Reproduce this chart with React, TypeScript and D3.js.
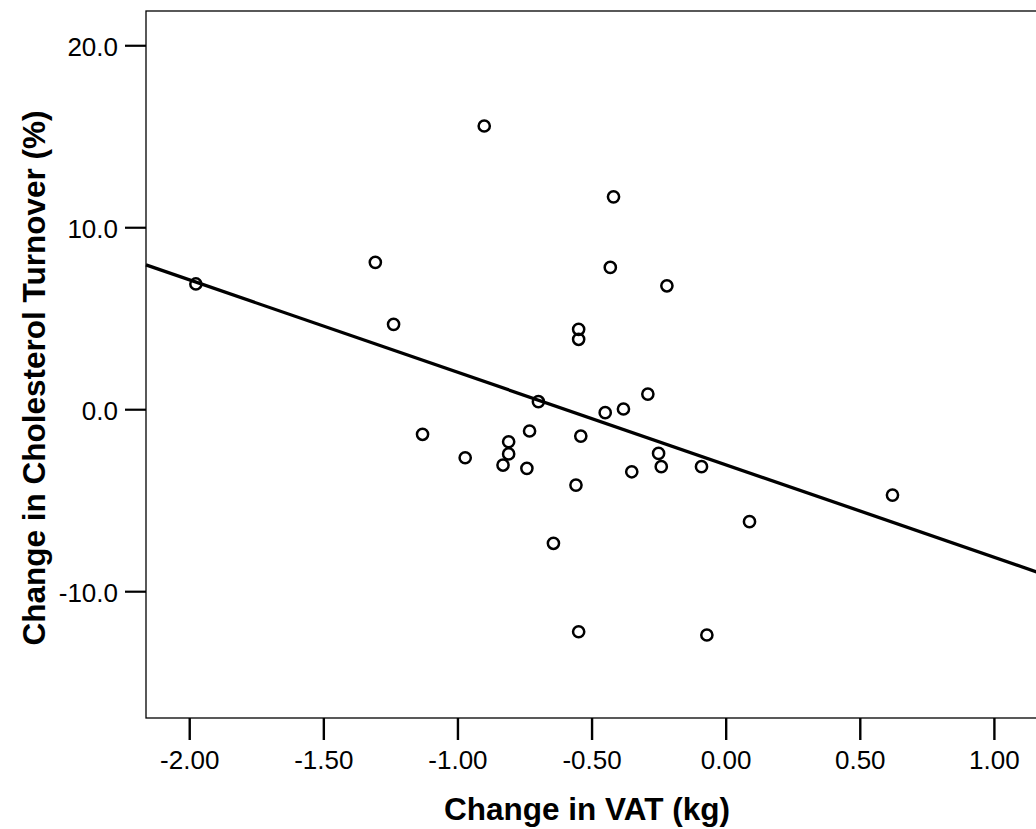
import React from "react";
import * as d3 from "d3";

// Data
const vatChange: number[] = [
  -1.977, -1.308, -1.24, -1.132, -0.973, -0.902, -0.832, -0.811, -0.811, -0.743,
  -0.733, -0.7, -0.644, -0.56, -0.55, -0.55, -0.542, -0.55, -0.451, -0.432,
  -0.42, -0.383, -0.352, -0.292, -0.252, -0.242, -0.221, -0.092, -0.072, 0.087,
  0.62,
];
const cholTurnoverChange: number[] = [
  6.91, 8.1, 4.69, -1.35, -2.64, 15.59, -3.04, -1.76, -2.43, -3.22,
  -1.17, 0.44, -7.34, -4.14, 4.42, 3.87, -1.45, -12.2, -0.16, 7.82,
  11.7, 0.04, -3.41, 0.86, -2.4, -3.13, 6.81, -3.13, -12.38, -6.15,
  -4.69,
];
const fitIntercept = -3.03;
const fitSlope = -5.08;

const xTicks: number[] = [-2, -1.5, -1, -0.5, 0, 0.5, 1];
const yTicks: number[] = [-10, 0, 10, 20];
const xLabel = "Change in VAT (kg)";
const yLabel = "Change in Cholesterol Turnover (%)";

const W = 1036;
const H = 829;
const left = 146;
const top = 11;
const right = 1040;
const bottom = 718;
const FONT = "'Liberation Sans', Arial, Helvetica, sans-serif";

export default function App() {
  const x = d3.scaleLinear().domain([-2.163, 1.17]).range([left, right]);
  const y = d3.scaleLinear().domain([-16.94, 21.91]).range([bottom, top]);
  const [x0, x1] = x.domain();
  const line = d3
    .line<number>()
    .x((v) => x(v))
    .y((v) => y(fitIntercept + fitSlope * v));
  const pts = vatChange.map((v, i) => ({ v, c: cholTurnoverChange[i] }));

  return (
    <svg
      width={W}
      height={H}
      style={{ position: "absolute", left: 0, top: 0, background: "#fff" }}
      fontFamily={FONT}
    >
      <rect x={0} y={0} width={W} height={H} fill="#fff" />
      {/* frame */}
      <rect
        x={left}
        y={top}
        width={right - left}
        height={bottom - top}
        fill="none"
        stroke="#000"
        strokeWidth={1.3}
      />
      {/* regression line */}
      <path d={line([x0, x1]) || ""} fill="none" stroke="#000" strokeWidth={3.3} />
      {/* points */}
      {pts.map((p, i) => (
        <circle
          key={i}
          cx={x(p.v)}
          cy={y(p.c)}
          r={5.6}
          fill="none"
          stroke="#000"
          strokeWidth={2.5}
        />
      ))}
      {/* y ticks */}
      {yTicks.map((t) => (
        <g key={"y" + t}>
          <line x1={left - 21} x2={left} y1={y(t)} y2={y(t)} stroke="#000" strokeWidth={2.2} />
          <text x={118} y={y(t) + 10} textAnchor="end" fontSize={26} fill="#000">
            {t.toFixed(1)}
          </text>
        </g>
      ))}
      {/* x ticks */}
      {xTicks.map((t) => (
        <g key={"x" + t}>
          <line x1={x(t)} x2={x(t)} y1={bottom} y2={bottom + 22} stroke="#000" strokeWidth={2.4} />
          <text x={x(t)} y={769} textAnchor="middle" fontSize={26} fill="#000">
            {t.toFixed(2)}
          </text>
        </g>
      ))}
      {/* axis titles */}
      <text x={587} y={820} textAnchor="middle" fontSize={31.5} fontWeight="bold" fill="#000">
        {xLabel}
      </text>
      <text
        transform={`translate(45,378) rotate(-90)`}
        textAnchor="middle"
        fontSize={31.5}
        fontWeight="bold"
        fill="#000"
      >
        {yLabel}
      </text>
    </svg>
  );
}
